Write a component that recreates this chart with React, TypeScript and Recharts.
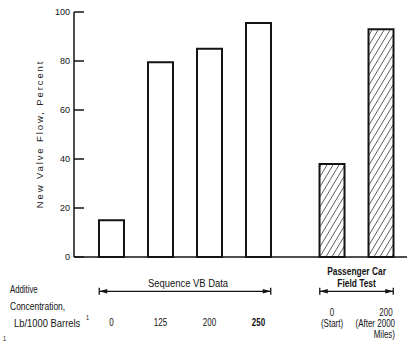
import React from 'react';
import { BarChart, Bar, XAxis, YAxis, Cell, ReferenceLine, Customized } from 'recharts';

// Additive concentration (lb/1000 barrels) for each test
const concentrations = ['0', '125', '200', '250', '0', '200'];
// Extra lines printed under the field-test concentrations
const concentrationNotes = [[], [], [], [], ['(Start)'], ['(After 2000', 'Miles)']];
// Which test program each bar belongs to
const testGroups = ['seq', 'seq', 'seq', 'seq', 'field', 'field'];
// New valve flow, percent
const valveFlow = [15, 79.5, 85, 95.5, 38, 93];
const yTicks = [0, 20, 40, 60, 80, 100];

const seqTitle = ['Sequence VB Data'];
const fieldTitle = ['Passenger Car', 'Field Test'];
const rowTitle = ['Additive', 'Concentration,', 'Lb/1000 Barrels'];

const FONT = "'Liberation Sans', Arial, sans-serif";
const INK = '#141414';

// Field-test bars sit half a slot further right, leaving a gap between the programs
const data = concentrations.map((c, i) => ({
  pos: i + (testGroups[i] === 'field' ? 0.5 : 0),
  value: valveFlow[i],
  label: c,
  notes: concentrationNotes[i],
  group: testGroups[i],
}));

const seqIdx = data.map((d, i) => (d.group === 'seq' ? i : -1)).filter((i) => i >= 0);
const fieldIdx = data.map((d, i) => (d.group === 'field' ? i : -1)).filter((i) => i >= 0);
const half = 0.25;
const bracketY = -14;

// Condensed lettering: a horizontally squeezed sans
const NText = ({ x, y, anchor = 'start', size = 10, weight = 400, sx = 0.8, children }: any) => (
  <text
    transform={`translate(${x},${y}) scale(${sx},1)`}
    textAnchor={anchor}
    fontFamily={FONT}
    fontSize={size}
    fontWeight={weight}
    fill={INK}
  >
    {children}
  </text>
);

const XTick = (props: any) => {
  const { x, y, payload } = props;
  const i = data.findIndex((d) => Math.abs(d.pos - payload.value) < 1e-6);
  if (i < 0) return null;
  const d = data[i];
  const isField = d.group === 'field';
  const isLast = i === data.length - 1;
  const baseY = y + (isField ? 59 : 69);
  return (
    <g>
      <NText
        x={isLast ? x + 5 : x}
        y={baseY}
        anchor="middle"
        weight={d.label === '250' && !isField ? 700 : 400}
      >
        {d.label}
      </NText>
      {d.notes.map((t, k) => (
        <NText key={k} x={isLast ? x + 14 : x} y={baseY + (k + 1) * 11} anchor={isLast ? 'end' : 'middle'}>
          {t}
        </NText>
      ))}
    </g>
  );
};

const makeBracket = (title: string[], bold: boolean) => (p: any) => {
  const { x1, y1, x2 } = p;
  const cx = (x1 + x2) / 2;
  return (
    <g>
      <line x1={x1} y1={y1} x2={x2} y2={y1} stroke={INK} strokeWidth={1.3} />
      <line x1={x1} y1={y1 - 3.5} x2={x1} y2={y1 + 3.5} stroke={INK} strokeWidth={1.3} />
      <path d={`M${x1},${y1} l8,-2.2 v4.4 z`} fill={INK} />
      <line x1={x2} y1={y1 - 3.5} x2={x2} y2={y1 + 3.5} stroke={INK} strokeWidth={1.3} />
      <path d={`M${x2},${y1} l-8,-2.2 v4.4 z`} fill={INK} />
      {title.map((t, k) => (
        <NText
          key={k}
          x={cx + (bold ? 0 : 3)}
          y={y1 - 4 - (title.length - 1 - k) * 12.5}
          anchor="middle"
          size={10.5}
          weight={bold ? 700 : 400}
          sx={bold ? 0.8 : 0.9}
        >
          {t}
        </NText>
      ))}
    </g>
  );
};

const StaticText = () => (
  <g>
    <text
      x={39}
      y={134}
      transform="rotate(-90, 39, 134)"
      textAnchor="middle"
      dominantBaseline="central"
      fontFamily={FONT}
      fontSize={9.5}
      letterSpacing={1.9}
      fill="#222"
    >
      New Valve Flow, Percent
    </text>
    <NText x={10} y={293} sx={0.78}>{rowTitle[0]}</NText>
    <NText x={10} y={310} sx={0.85}>{rowTitle[1]}</NText>
    <NText x={14} y={326.5} sx={0.94}>{rowTitle[2]}</NText>
    <NText x={86} y={320} size={7}>1</NText>
    <NText x={3} y={341} size={7}>1</NText>
  </g>
);

export default function App() {
  return (
    <div style={{ position: 'absolute', left: 0, top: 0, width: 407, height: 342, background: '#fff' }}>
      <BarChart
        width={407}
        height={342}
        data={data}
        margin={{ top: 12, right: 0, bottom: 0, left: 0 }}
      >
        <defs>
          <pattern id="hatch" patternUnits="userSpaceOnUse" width={6} height={10}>
            <rect width={6} height={10} fill="#fff" />
            <line x1={0} y1={10} x2={6} y2={0} stroke="#333" strokeWidth={0.8} />
            <line x1={-6} y1={10} x2={0} y2={0} stroke="#333" strokeWidth={0.8} />
            <line x1={6} y1={10} x2={12} y2={0} stroke="#333" strokeWidth={0.8} />
          </pattern>
        </defs>
        <XAxis
          type="number"
          dataKey="pos"
          domain={[-0.765, 6.03]}
          allowDataOverflow
          ticks={data.map((d) => d.pos)}
          tick={<XTick />}
          tickLine={false}
          tickSize={0}
          tickMargin={0}
          height={85}
          axisLine={{ stroke: INK, strokeWidth: 1.5 }}
          interval={0}
        />
        <YAxis
          type="number"
          domain={[0, 100]}
          ticks={yTicks}
          width={74}
          tickSize={-10}
          tickMargin={14}
          axisLine={{ stroke: INK, strokeWidth: 1.5 }}
          tickLine={{ stroke: INK, strokeWidth: 1.5 }}
          tick={{ fontFamily: FONT, fontSize: 9, fill: INK }}
        />
        <Bar dataKey="value" barSize={25} stroke={INK} strokeWidth={2} isAnimationActive={false}>
          {data.map((d, i) => (
            <Cell key={i} fill={d.group === 'field' ? 'url(#hatch)' : '#fff'} />
          ))}
        </Bar>
        <ReferenceLine
          ifOverflow="visible"
          segment={[
            { x: data[seqIdx[0]].pos - half, y: bracketY },
            { x: data[seqIdx[seqIdx.length - 1]].pos + half, y: bracketY },
          ]}
          shape={makeBracket(seqTitle, false)}
        />
        <ReferenceLine
          ifOverflow="visible"
          segment={[
            { x: data[fieldIdx[0]].pos - half, y: bracketY },
            { x: data[fieldIdx[fieldIdx.length - 1]].pos + half, y: bracketY },
          ]}
          shape={makeBracket(fieldTitle, true)}
        />
        <Customized component={StaticText} />
      </BarChart>
    </div>
  );
}
